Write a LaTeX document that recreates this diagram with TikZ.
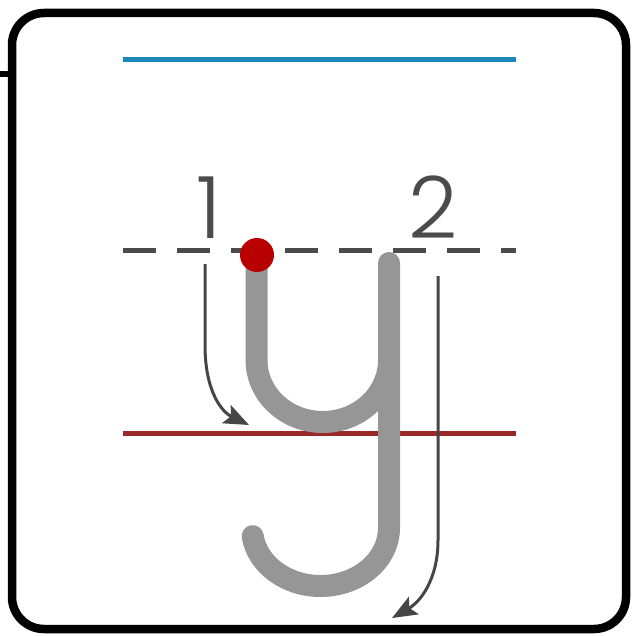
\documentclass[tikz,border=0pt]{standalone}
\usepackage{fontspec}
\newfontfamily\digitfont{Poppins Light}
\usetikzlibrary{arrows.meta}
\definecolor{guideblue}{RGB}{30,135,185}
\definecolor{guidegray}{RGB}{75,75,75}
\definecolor{guidered}{RGB}{155,40,40}
\definecolor{lettergray}{RGB}{150,150,150}
\definecolor{dotred}{RGB}{185,0,0}
\definecolor{arrowgray}{RGB}{70,70,70}
\tikzset{
  frame/.style={draw=black,line width=8.5pt,rounded corners=32pt},
  guide/.style={line width=5pt},
  letterstroke/.style={draw=lettergray,line width=22pt,line cap=round},
  hintarrow/.style={draw=arrowgray,line width=3pt,-{Stealth[length=25pt,width=20pt,inset=5pt]}},
  digit/.style={text=guidegray,font=\digitfont\fontsize{86}{86}\selectfont,inner sep=0pt,anchor=base}
}
\begin{document}
\begin{tikzpicture}[x=1pt,y=-1pt]
\useasboundingbox (0,0) rectangle (632,636);
% frame
\draw[frame] (12,13) rectangle (626,629);
\draw[line width=6pt] (0,74) -- (10,74);
% guide lines
\draw[guide,guideblue] (123,60) -- (516,60);
\draw[guide,guidegray,dash pattern=on 33pt off 21pt] (123,250) -- (516,250);
\draw[guide,guidered] (123,433) -- (516,433);
% numbers
\node[digit] (n1) at (209,238) {1};
\node[digit] (n2) at (433,238) {2};
% letter y
\draw[letterstroke] (256.5,263) -- (256.5,360)
  arc[start angle=180,end angle=0,x radius=66.25,y radius=62];
\draw[letterstroke] (389,263) -- (389,528)
  arc[start angle=0,end angle=172,x radius=68.5,y radius=58];
% start dot
\fill[dotred] (257,255) circle[radius=17];
% arrows
\coordinate (a1s) at (205,264);
\coordinate (a1m) at (205,345);
\coordinate (a1e) at (249,425);
\draw[hintarrow] (a1s) -- (a1m) .. controls (205,392) and (222,412) .. (a1e);
\coordinate (a2s) at (438,276);
\coordinate (a2m) at (438,540);
\coordinate (a2e) at (392,618);
\draw[hintarrow] (a2s) -- (a2m) .. controls (438,580) and (420,602) .. (a2e);
\end{tikzpicture}
\end{document}
